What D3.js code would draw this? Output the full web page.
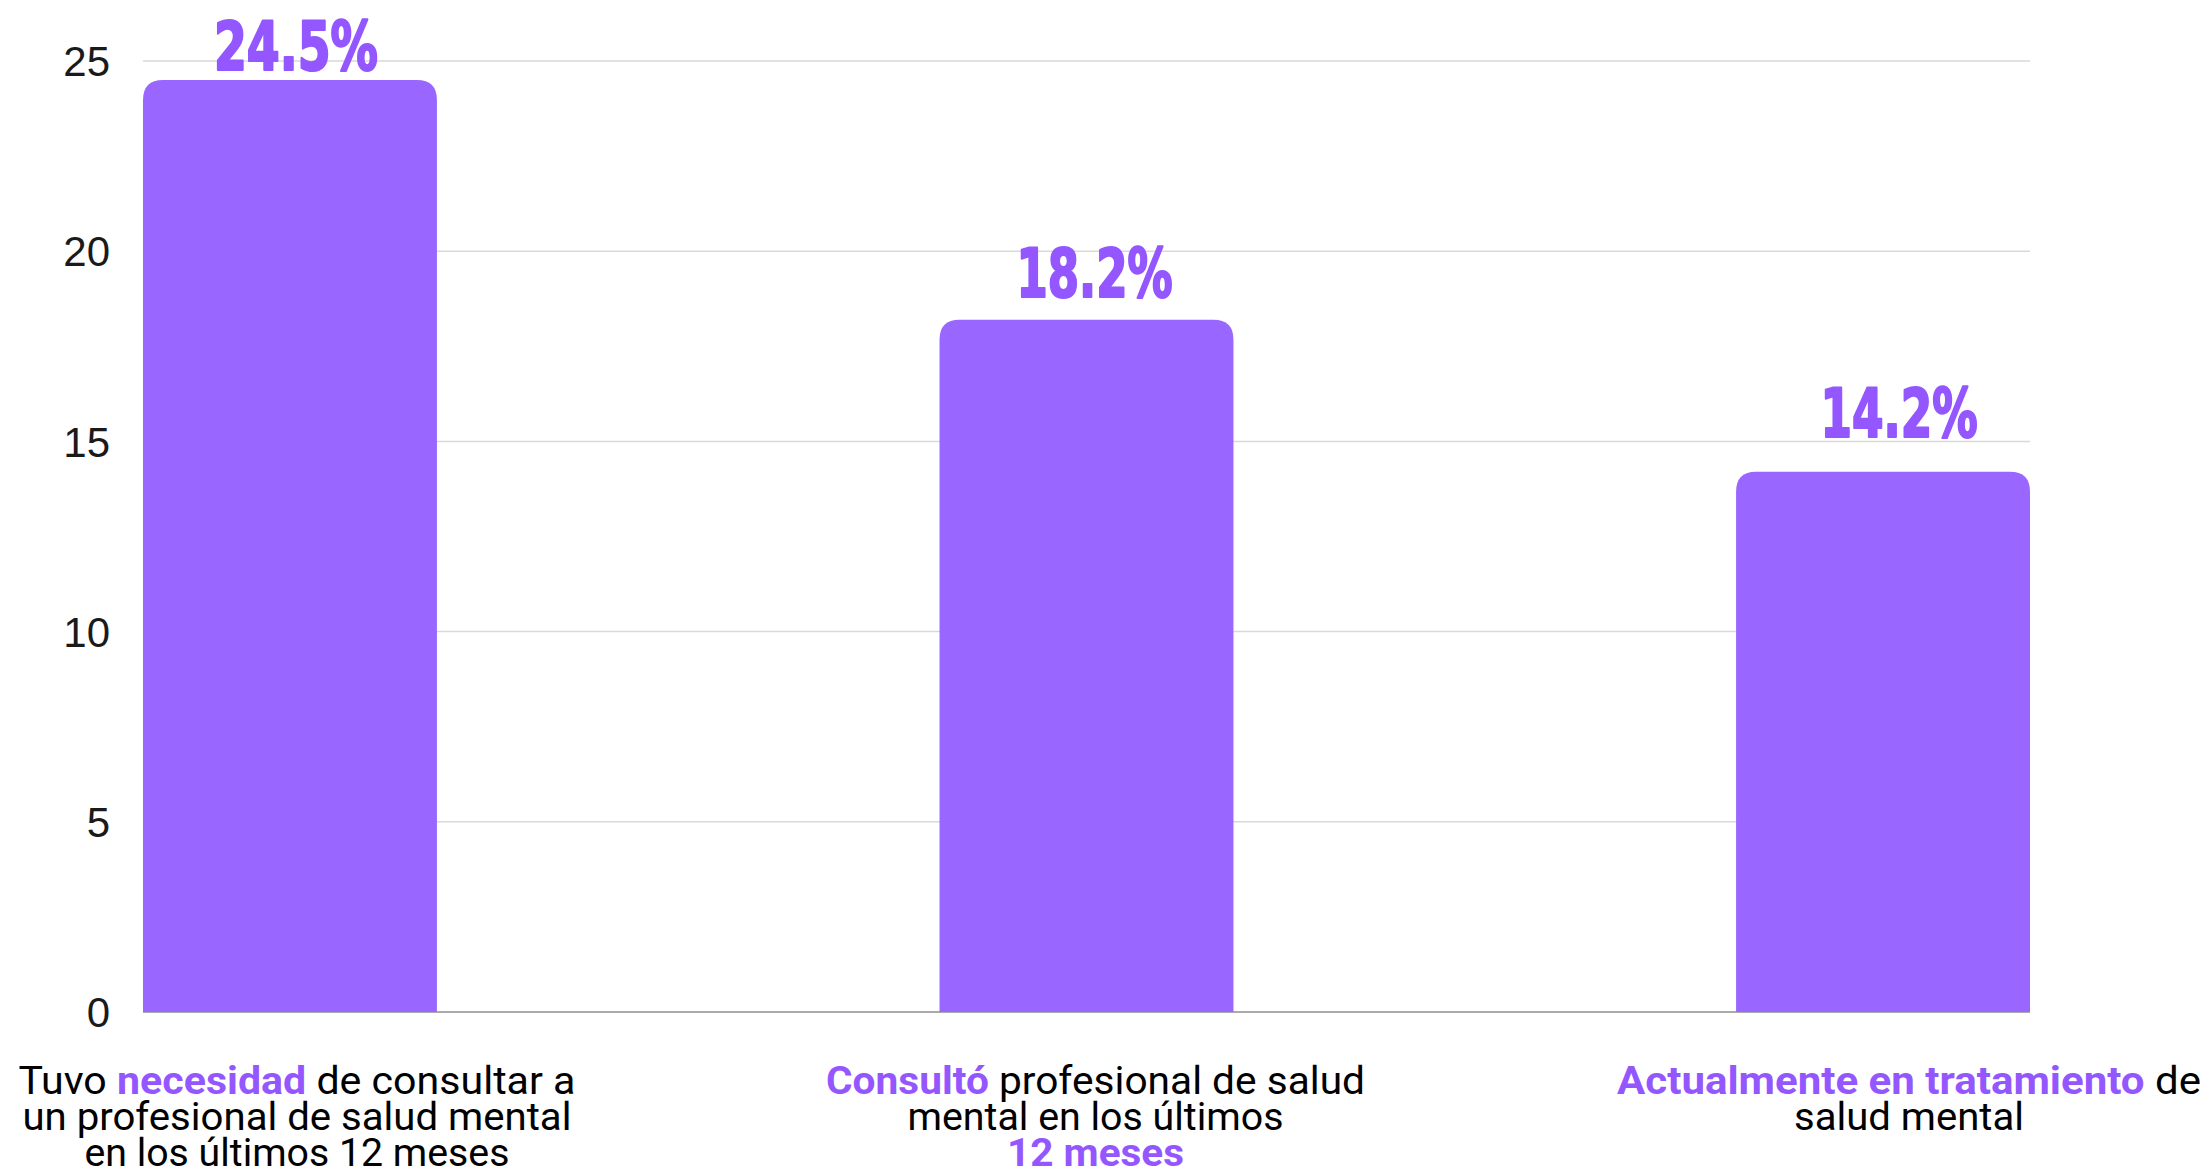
<!DOCTYPE html>
<html>
<head>
<meta charset="utf-8">
<script src="https://cdn.jsdelivr.net/npm/d3@7"></script>
<style>
  html, body { margin: 0; padding: 0; background: #ffffff; }
  svg { display: block; }
</style>
</head>
<body>
<svg id="chart" width="2209" height="1172"></svg>
<script>
// ---- data ----
const categories = ["necesidad", "consulto", "tratamiento"];
const values = [24.5, 18.2, 14.2];
const valueLabels = ["24.5%", "18.2%", "14.2%"];
const yTicks = [0, 5, 10, 15, 20, 25];
// category label text: lines of [text, highlighted]
const categoryLines = [
  [
    [["Tuvo ", 0], ["necesidad", 1], [" de consultar a", 0]],
    [["un profesional de salud mental", 0]],
    [["en los últimos 12 meses", 0]]
  ],
  [
    [["Consultó", 1], [" profesional de salud", 0]],
    [["mental en los últimos", 0]],
    [["12 meses", 1]]
  ],
  [
    [["Actualmente en tratamiento", 1], [" de", 0]],
    [["salud mental", 0]]
  ]
];

// ---- layout / style ----
const W = 2209, H = 1172;
const plot = { left: 143, right: 2030, top: 61, bottom: 1012 };
const barColor = "#9966ff";
const accent = "#9457ff";
const radius = 20;
const valueLabelGap = [10, 23, 35];
const valueLabelDx = [6, 8, 16];
const valueLabelWidth = [164, 156, 157];
const catLabelDx = [7, 9, 26];
const catLineWidths = [[557, 549, 425], [539, 376, 177], [584, 230]];
const catBaseline0 = 1094;
const catLineHeight = 36;

const svg = d3.select("#chart");

const x = d3.scaleBand()
  .domain(categories)
  .range([plot.left, plot.right])
  .paddingInner(0.631)
  .paddingOuter(0);

const y = d3.scaleLinear()
  .domain([0, 25])
  .range([plot.bottom, plot.top]);

// gridlines
svg.append("g")
  .selectAll("line")
  .data(yTicks.filter(d => d !== 0))
  .join("line")
  .attr("x1", plot.left)
  .attr("x2", plot.right)
  .attr("y1", d => y(d))
  .attr("y2", d => y(d))
  .attr("stroke", "#d9d9d9")
  .attr("stroke-width", 1.5);

// baseline
svg.append("line")
  .attr("x1", plot.left)
  .attr("x2", plot.right)
  .attr("y1", y(0))
  .attr("y2", y(0))
  .attr("stroke", "#ababab")
  .attr("stroke-width", 2);

// y axis labels
svg.append("g")
  .selectAll("text")
  .data(yTicks)
  .join("text")
  .attr("x", 110)
  .attr("y", d => y(d))
  .attr("dy", "0.36em")
  .attr("text-anchor", "end")
  .attr("font-family", "'Liberation Sans', Arial, sans-serif")
  .attr("font-size", 42)
  .attr("fill", "#1a1a1a")
  .text(d => d);

// bars with rounded top corners
function barPath(x0, w, yTop, yBot, r) {
  const rr = Math.min(r, w / 2, yBot - yTop);
  return `M${x0},${yBot}V${yTop + rr}Q${x0},${yTop} ${x0 + rr},${yTop}` +
         `H${x0 + w - rr}Q${x0 + w},${yTop} ${x0 + w},${yTop + rr}V${yBot}Z`;
}

svg.append("g")
  .selectAll("path")
  .data(values)
  .join("path")
  .attr("d", (d, i) => barPath(x(categories[i]), x.bandwidth(), y(d), y(0), radius))
  .attr("fill", barColor);

// value labels
svg.append("g")
  .selectAll("text")
  .data(values)
  .join("text")
  .attr("x", (d, i) => x(categories[i]) + x.bandwidth() / 2 + valueLabelDx[i])
  .attr("y", (d, i) => y(d) - valueLabelGap[i])
  .attr("text-anchor", "middle")
  .attr("font-family", "'DejaVu Sans Condensed', 'DejaVu Sans', sans-serif")
  .attr("font-stretch", "condensed")
  .attr("font-weight", "bold")
  .attr("font-size", 67)
  .attr("fill", accent)
  .attr("stroke", accent)
  .attr("stroke-width", 2.2)
  .attr("stroke-linejoin", "round")
  .attr("textLength", (d, i) => valueLabelWidth[i])
  .attr("lengthAdjust", "spacingAndGlyphs")
  .text((d, i) => valueLabels[i]);

// category labels
categoryLines.forEach((lines, i) => {
  const cx = x(categories[i]) + x.bandwidth() / 2 + catLabelDx[i];
  lines.forEach((segs, j) => {
    const t = svg.append("text")
      .attr("x", cx)
      .attr("y", catBaseline0 + j * catLineHeight)
      .attr("text-anchor", "middle")
      .attr("font-family", "Roboto, 'Noto Sans', sans-serif")
      .attr("font-size", 38)
      .attr("fill", "#000")
      .attr("textLength", catLineWidths[i][j])
      .attr("lengthAdjust", "spacingAndGlyphs")
      .style("white-space", "pre");
    segs.forEach(([txt, hi]) => {
      t.append("tspan")
        .attr("fill", hi ? accent : "#000")
        .attr("font-weight", hi ? 700 : 400)
        .text(txt);
    });
  });
});
</script>
</body>
</html>
